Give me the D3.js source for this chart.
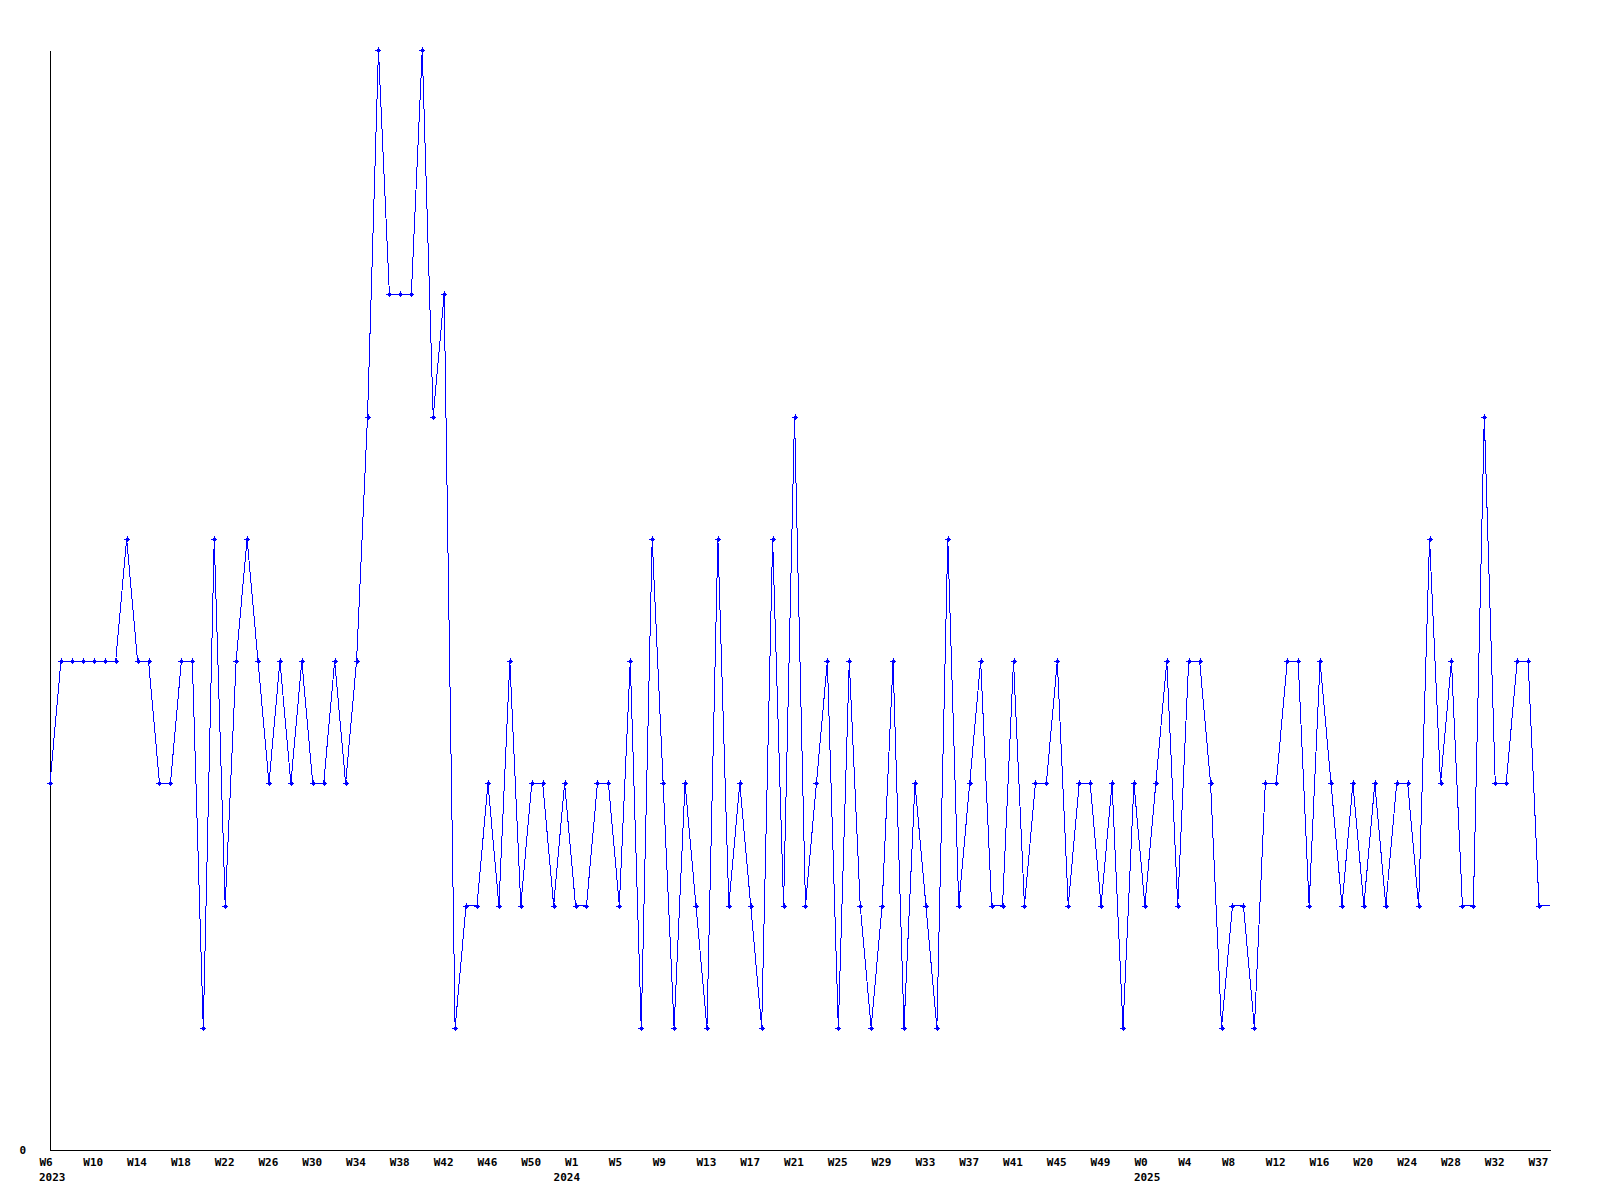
<!DOCTYPE html>
<html>
<head>
<meta charset="utf-8">
<script src="https://cdn.jsdelivr.net/npm/d3@7"></script>
<style>
  body { margin: 0; background: #fff; }
  svg text { font-family: "DejaVu Sans Mono", monospace; font-weight: bold; font-size: 11px; fill: #000; }
</style>
</head>
<body>
<script>
// weekly counts, W6 2023 .. W37 2025 (last value only extends the line to the edge)
const values = [
  3, 4, 4, 4, 4, 4, 4, 5, 4, 4,
  3, 3, 4, 4, 1, 5, 2, 4, 5, 4,
  3, 4, 3, 4, 3, 3, 4, 3, 4, 6,
  9, 7, 7, 7, 9, 6, 7, 1, 2, 2,
  3, 2, 4, 2, 3, 3, 2, 3, 2, 2,
  3, 3, 2, 4, 1, 5, 3, 1, 3, 2,
  1, 5, 2, 3, 2, 1, 5, 2, 6, 2,
  3, 4, 1, 4, 2, 1, 2, 4, 1, 3,
  2, 1, 5, 2, 3, 4, 2, 2, 4, 2,
  3, 3, 4, 2, 3, 3, 2, 3, 1, 3,
  2, 3, 4, 2, 4, 4, 3, 1, 2, 2,
  1, 3, 3, 4, 4, 2, 4, 3, 2, 3,
  2, 3, 2, 3, 3, 2, 5, 3, 4, 2,
  2, 6, 3, 3, 4, 4, 2, 2
];

// one label every 4th week
const weekTicks = [
  "W6", "W10", "W14", "W18", "W22", "W26", "W30", "W34", "W38", "W42", "W46", "W50",
  "W1", "W5", "W9", "W13", "W17", "W21", "W25", "W29", "W33", "W37", "W41", "W45", "W49",
  "W0", "W4", "W8", "W12", "W16", "W20", "W24", "W28", "W32", "W37"
];
const tickStep = 4;

const yearLabels = ["2023", "2024", "2025"];
const yearAt = [0, 47, 100];

const yMax = 9;

const width = 1600;
const height = 1200;
const margin = { top: 50, right: 50, bottom: 50, left: 50 };

const svg = d3.select("body")
  .append("svg")
  .attr("width", width)
  .attr("height", height);

const x = d3.scaleLinear()
  .domain([0, values.length - 1])
  .range([margin.left, width - margin.right]);

const y = d3.scaleLinear()
  .domain([0, yMax])
  .range([height - margin.bottom, margin.top]);

// x axis
const xAxis = svg.append("g")
  .attr("transform", `translate(0, ${height - margin.bottom})`)
  .call(d3.axisBottom(x)
    .tickValues(weekTicks.map((_, k) => k * tickStep))
    .tickFormat((d, k) => weekTicks[k])
    .tickSize(0)
    .tickSizeOuter(0));

xAxis.attr("font-family", null).attr("font-size", null);
xAxis.select(".domain").attr("stroke", "#000").attr("shape-rendering", "crispEdges");
xAxis.selectAll("text")
  .attr("text-anchor", "start")
  .attr("x", -11)
  .attr("y", 16)
  .attr("dy", null);

svg.append("g")
  .selectAll("text")
  .data(yearLabels)
  .join("text")
  .attr("x", (d, k) => x(yearAt[k]) - 11)
  .attr("y", height - margin.bottom + 31)
  .text(d => d);

// y axis, only the zero label
const yAxis = svg.append("g")
  .attr("transform", `translate(${margin.left}, 0)`)
  .call(d3.axisLeft(y)
    .tickValues([0])
    .tickSize(0)
    .tickSizeOuter(0));

yAxis.attr("font-family", null).attr("font-size", null);
yAxis.select(".domain").attr("stroke", "#000").attr("shape-rendering", "crispEdges");
yAxis.selectAll("text")
  .attr("text-anchor", "end")
  .attr("x", -24)
  .attr("y", 3)
  .attr("dy", null);

// series
const line = d3.line()
  .x((d, i) => x(i))
  .y(d => y(d));

svg.append("path")
  .datum(values)
  .attr("fill", "none")
  .attr("stroke", "#0000ff")
  .attr("stroke-width", 1)
  .attr("shape-rendering", "crispEdges")
  .attr("d", line);

// small cross markers (none on the trailing edge point)
const markers = svg.append("g")
  .attr("fill", "#0000ff")
  .attr("shape-rendering", "crispEdges");

markers.selectAll("path")
  .data(values.slice(0, -1))
  .join("path")
  .attr("transform", (d, i) => `translate(${Math.round(x(i))}, ${Math.round(y(d))})`)
  .attr("d", "M-3,-0.5h6v1h-6z M-0.5,-3h1v6h-1z M-1.5,-1.5h3v3h-3z");
</script>
</body>
</html>
